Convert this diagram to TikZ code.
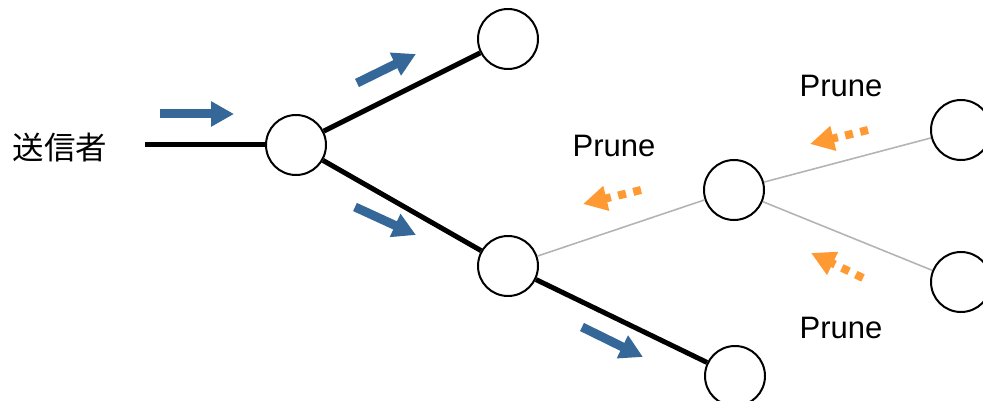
\documentclass[tikz,border=0pt]{standalone}
\usepackage{fontspec}
\setmainfont{Liberation Sans}
\newfontfamily\cjkfont{Noto Sans CJK JP}
\usetikzlibrary{arrows.meta}
\definecolor{flowblue}{RGB}{53,103,153}
\definecolor{pruneorange}{RGB}{255,154,51}
\definecolor{edgegray}{RGB}{180,180,180}
\tikzset{
  vertex/.style={circle,draw=black,line width=2pt,fill=white,inner sep=0pt,minimum size=60pt},
  mainedge/.style={line width=5pt,black},
  thinedge/.style={line width=1.6pt,edgegray},
  flowarrow/.style={line width=9pt,flowblue,-{Triangle[length=23pt,width=24pt]}},
  prunearrow/.style={line width=8pt,pruneorange,dash pattern=on 8pt off 7.5pt,-{Triangle[length=24pt,width=24pt]}},
  lbl/.style={font=\fontsize{31}{31}\selectfont,inner sep=0pt},
}
\begin{document}
\begin{tikzpicture}[x=1pt,y=-1pt]
\useasboundingbox (0,0) rectangle (983,401);
% nodes
\node[lbl,font=\cjkfont\fontsize{31.5}{31.5}\selectfont] (sender) at (60,148) {送信者};
\coordinate (s0) at (145,145);
\node[vertex] (n1) at (296,145) {};
\node[vertex] (n2) at (508,39) {};
\node[vertex] (n3) at (508,266) {};
\node[vertex] (n4) at (734,190) {};
\node[vertex] (n5) at (735,376) {};
\node[vertex] (n6) at (961,130) {};
\node[vertex] (n7) at (961,282) {};
% edges
\draw[mainedge] (s0) -- (n1);
\draw[mainedge] (n1) -- (n2);
\draw[mainedge] (n1) -- (n3);
\draw[mainedge] (n3) -- (n5);
\draw[thinedge] (n3) -- (n4);
\draw[thinedge] (n4) -- (n6);
\draw[thinedge] (n4) -- (n7);
% labels
\node[lbl] (p1) at (614,146) {Prune};
\node[lbl] (p2) at (841,86) {Prune};
\node[lbl] (p3) at (841,328) {Prune};
% blue flow arrows
\coordinate (b1s) at (160,114); \coordinate (b1e) at (234,114);
\coordinate (b2s) at (357,83);  \coordinate (b2e) at (416,54);
\coordinate (b3s) at (355,207); \coordinate (b3e) at (416,235);
\coordinate (b4s) at (582,327); \coordinate (b4e) at (643,357);
\draw[flowarrow] (b1s) -- (b1e);
\draw[flowarrow] (b2s) -- (b2e);
\draw[flowarrow] (b3s) -- (b3e);
\draw[flowarrow] (b4s) -- (b4e);
% orange prune arrows
\coordinate (o1s) at (641,190); \coordinate (o1e) at (583,204);
\coordinate (o2s) at (868,130); \coordinate (o2e) at (810,144);
\coordinate (o3s) at (863,278); \coordinate (o3e) at (811,253);
\draw[prunearrow] (o1s) -- (o1e);
\draw[prunearrow] (o2s) -- (o2e);
\draw[prunearrow] (o3s) -- (o3e);
\end{tikzpicture}
\end{document}
